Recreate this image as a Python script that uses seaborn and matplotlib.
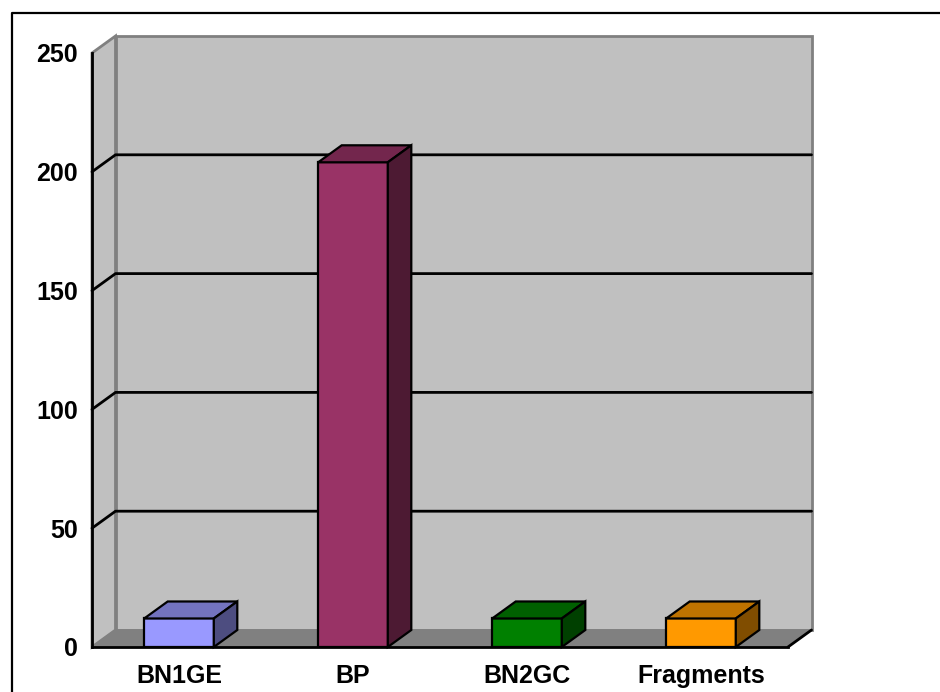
import matplotlib
matplotlib.use("Agg")
import matplotlib.pyplot as plt
from matplotlib.patches import Polygon, Rectangle
from matplotlib.lines import Line2D
import seaborn as sns
import pandas as pd

categories = ["BN1GE", "BP", "BN2GC", "Fragments"]
values = [12, 204, 12, 12]
front_colors = ["#9999FF", "#993366", "#008000", "#FF9900"]
top_colors = ["#7373BF", "#73264D", "#006000", "#BF7300"]
side_colors = ["#4D4D80", "#4D1A33", "#004000", "#804D00"]
y_ticks = [0, 50, 100, 150, 200, 250]

sns.set_style("white")
plt.rcParams["font.family"] = ["Liberation Sans", "DejaVu Sans"]
plt.rcParams["text.color"] = "black"
plt.rcParams["xtick.color"] = "black"
plt.rcParams["ytick.color"] = "black"

W, H = 940, 692
fig = plt.figure(figsize=(W / 100, H / 100), dpi=100)
ax = fig.add_axes([92 / W, 45 / H, 696 / W, 594 / H])
ax.set_facecolor("none")

df = pd.DataFrame({"category": categories, "count": values})
sns.barplot(data=df, x="category", y="count", hue="category",
            palette=front_colors, saturation=1, width=0.40,
            edgecolor="black", linewidth=1.6, legend=False, ax=ax, zorder=5)

ax.set_xlim(-0.5, 3.5)
ax.set_ylim(0, 250)

# depth of the 3-D box in data units
px_x = 696 / 4.0
px_y = 594 / 250.0
dx = 23.5 / px_x
dy = 17.0 / px_y
x0, x1 = -0.5, 3.5
ytop = 250

# back wall, side wall and floor
ax.add_patch(Rectangle((x0 + dx, dy), x1 - x0, ytop, facecolor="#C0C0C0",
                       edgecolor="#808080", lw=2, clip_on=False, zorder=0))
ax.add_patch(Polygon([(x0, 0), (x0, ytop), (x0 + dx, ytop + dy), (x0 + dx, dy)],
                     closed=True, facecolor="#C0C0C0", edgecolor="#808080",
                     lw=2, clip_on=False, zorder=0.5))
ax.add_patch(Polygon([(x0, 0), (x1, 0), (x1 + dx, dy), (x0 + dx, dy)],
                     closed=True, facecolor="#808080", edgecolor="#808080",
                     lw=1, clip_on=False, zorder=1))
ax.plot([x1, x1 + dx], [0, dy], color="black", lw=2, clip_on=False, zorder=1.5)

# gridlines across side wall and back wall
for v in y_ticks[1:-1]:
    ax.plot([x0, x0 + dx, x1 + dx], [v, v + dy, v + dy], color="black",
            lw=2, clip_on=False, zorder=1.2)

# top and side faces of each bar
for patch, tc, sc in zip(ax.patches[:len(values)], top_colors, side_colors):
    bx = patch.get_x()
    bw = patch.get_width()
    bh = patch.get_height()
    top = Polygon([(bx, bh), (bx + dx, bh + dy), (bx + bw + dx, bh + dy), (bx + bw, bh)],
                  closed=True, facecolor=tc, edgecolor="black", lw=1.6,
                  clip_on=False, zorder=5)
    side = Polygon([(bx + bw, 0), (bx + bw, bh), (bx + bw + dx, bh + dy), (bx + bw + dx, dy)],
                   closed=True, facecolor=sc, edgecolor="black", lw=1.6,
                   clip_on=False, zorder=5)
    ax.add_patch(top)
    ax.add_patch(side)

# axes lines and ticks
for s in ["top", "right"]:
    ax.spines[s].set_visible(False)
for s in ["left", "bottom"]:
    ax.spines[s].set_color("black")
    ax.spines[s].set_linewidth(2)
    ax.spines[s].set_zorder(3)

ax.set_yticks(y_ticks)
ax.set_yticklabels([str(v) for v in y_ticks], fontsize=18, fontweight="bold",
                   color="black")
ax.tick_params(axis="y", direction="out", length=6, width=1.5, pad=4,
               colors="black")

ax.set_xticks([-0.5, 0.5, 1.5, 2.5, 3.5])
ax.set_xticklabels([])
ax.set_xticks(range(len(categories)), minor=True)
ax.set_xticklabels(categories, minor=True, fontsize=18, fontweight="bold",
                   color="black")
ax.tick_params(axis="x", which="major", direction="out", length=7.5, width=1.5,
               colors="black")
ax.tick_params(axis="x", which="minor", length=0, pad=12, colors="black")
ax.set_xlabel("")
ax.set_ylabel("")

# chart frame
fy = (H - 12.5) / H
fig.add_artist(Line2D([11.5 / W, 11.5 / W, 1.0], [0.0, fy, fy],
                      transform=fig.transFigure, color="black", lw=1.6))

fig.savefig("out.png", dpi=100)
